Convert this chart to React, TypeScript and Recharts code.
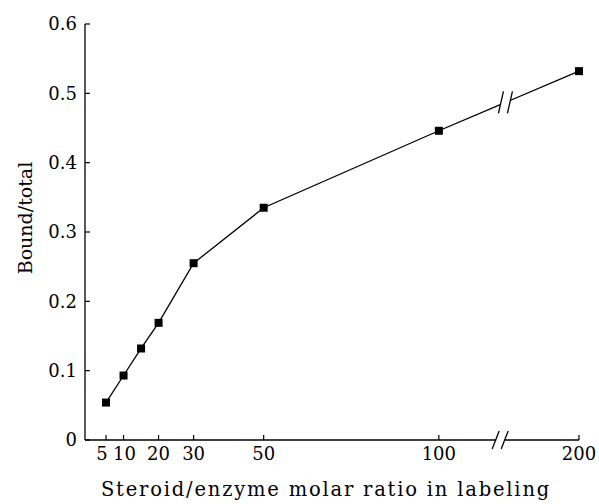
import React from 'react';
import { LineChart, Line, XAxis, YAxis, ReferenceDot, Label } from 'recharts';

// molar ratios used in the labeling and the measured bound/total fraction
const ratios = [5, 10, 15, 20, 30, 50, 100, 200];
const boundTotal = [0.054, 0.093, 0.132, 0.169, 0.255, 0.335, 0.446, 0.532];

const xTickValues = [5, 10, 20, 30, 50, 100, 200];
const yTickValues = [0, 0.1, 0.2, 0.3, 0.4, 0.5, 0.6];

// axis is broken after 100: the 100..200 stretch is compressed
const BREAK_START = 100;
const BREAK_SQUEEZE = 0.4;
const toPlot = (r: number) => (r <= BREAK_START ? r : BREAK_START + (r - BREAK_START) * BREAK_SQUEEZE);

const data = ratios.map((r, i) => ({ ratio: r, px: toPlot(r), bound: boundTotal[i] }));

const FONT = '"DejaVu Serif", "Liberation Serif", serif';
const TICK_GAP = 7;

const XTick = ({ x, y, payload }: any) => {
  const idx = xTickValues.findIndex((v) => toPlot(v) === payload.value);
  const value = idx >= 0 ? xTickValues[idx] : null;
  // the first two labels sit close together, push them apart a little
  const nudge = value === 5 ? -4 : value === 10 ? 1 : 0;
  return (
    <g>
      <line x1={x} x2={x} y1={y - TICK_GAP} y2={y - TICK_GAP - 5} stroke="#000" strokeWidth={1.2} />
      <text x={x + nudge} y={y} dy="0.71em" textAnchor="middle" fontFamily={FONT} fontSize={18} fill="#000">
        {value ?? ''}
      </text>
    </g>
  );
};

const YTick = ({ x, y, payload }: any) => {
  const v = payload.value;
  return (
    <g>
      <line x1={x + TICK_GAP + 1} x2={x + TICK_GAP + 6} y1={y} y2={y} stroke="#000" strokeWidth={1.2} />
      <text x={x} y={y} dy="0.36em" textAnchor="end" fontFamily={FONT} fontSize={18} fill="#000">
        {v === 0 ? '0' : v.toFixed(1)}
      </text>
    </g>
  );
};

const SquareDot = ({ cx, cy }: any) => {
  if (cx == null || cy == null) return null;
  return <rect x={cx - 4} y={cy - 4} width={8} height={8} fill="#000" />;
};

// two slanted strokes marking the scale break
const BreakMark = ({ cx, cy, tilt = 5, half = 10 }: any) => {
  if (cx == null || cy == null) return null;
  const gap = 4.5;
  return (
    <g>
      <rect x={cx - gap} y={cy - 3} width={gap * 2} height={6} fill="#fff" />
      <line x1={cx - gap - tilt / 2} y1={cy + half} x2={cx - gap + tilt / 2} y2={cy - half} stroke="#000" strokeWidth={1.3} />
      <line x1={cx + gap - tilt / 2} y1={cy + half} x2={cx + gap + tilt / 2} y2={cy - half} stroke="#000" strokeWidth={1.3} />
    </g>
  );
};

const lineBreakX = 119;
const last = data[data.length - 1];
const prev = data[data.length - 2];
const lineBreakY = prev.bound + ((lineBreakX - prev.px) / (last.px - prev.px)) * (last.bound - prev.bound);
const axisBreakX = 117.5;

export default function App() {
  return (
    <div style={{ position: 'absolute', left: 0, top: 0, background: '#fff' }}>
      <LineChart width={599} height={504} data={data} margin={{ top: 24, right: 20, left: 0, bottom: 0 }}>
        <XAxis
          type="number"
          dataKey="px"
          domain={[-1, toPlot(200)]}
          ticks={xTickValues.map(toPlot)}
          tick={<XTick />}
          tickLine={false}
          tickSize={0}
          tickMargin={TICK_GAP}
          height={64}
          axisLine={{ stroke: '#000', strokeWidth: 1.3 }}
          interval={0}
        >
          <Label
            content={() => (
              <text x={326} y={496} textAnchor="middle" fontFamily={FONT} fontSize={19.5} letterSpacing={1.8} fill="#000">
                Steroid/enzyme molar ratio in labeling
              </text>
            )}
          />
        </XAxis>
        <YAxis
          type="number"
          domain={[0, 0.6]}
          ticks={yTickValues}
          tick={<YTick />}
          tickLine={false}
          tickSize={0}
          tickMargin={TICK_GAP + 1}
          width={85}
          axisLine={{ stroke: '#000', strokeWidth: 1.3 }}
          interval={0}
        >
          <Label
            content={() => (
              <text
                x={25}
                y={218}
                textAnchor="middle"
                dominantBaseline="central"
                transform="rotate(-90, 25, 218)"
                fontFamily={FONT}
                fontSize={19}
                fill="#000"
              >
                Bound/total
              </text>
            )}
          />
        </YAxis>
        <Line
          type="linear"
          dataKey="bound"
          stroke="#000"
          strokeWidth={1.3}
          dot={<SquareDot />}
          activeDot={false}
          isAnimationActive={false}
        />
        <ReferenceDot x={lineBreakX} y={lineBreakY} shape={<BreakMark tilt={5} half={11} />} />
        <ReferenceDot x={axisBreakX} y={0} shape={<BreakMark tilt={7} half={9} />} ifOverflow="visible" />
      </LineChart>
    </div>
  );
}
